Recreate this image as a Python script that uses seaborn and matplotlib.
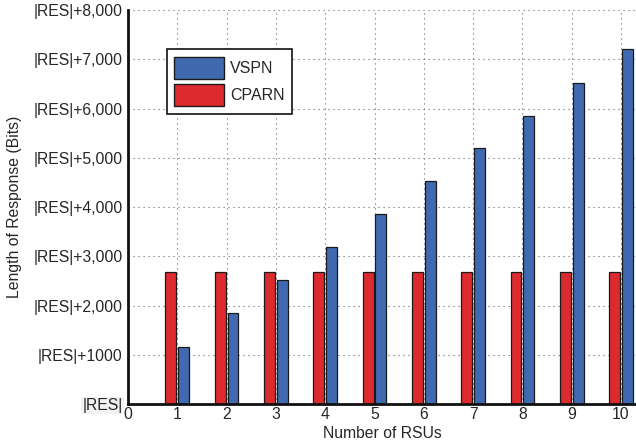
import pandas as pd
import matplotlib.pyplot as plt
import seaborn as sns
from matplotlib.patches import Patch
from matplotlib.ticker import MultipleLocator

# values
rsus = [1, 2, 3, 4, 5, 6, 7, 8, 9, 10]
vspn = [1165, 1840, 2510, 3185, 3855, 4530, 5200, 5850, 6525, 7200]
cparn = [2690, 2690, 2690, 2690, 2690, 2690, 2690, 2690, 2690, 2690]
y_ticks = [0, 1000, 2000, 3000, 4000, 5000, 6000, 7000, 8000]
y_labels = ["|RES|", "|RES|+1000", "|RES|+2,000", "|RES|+3,000", "|RES|+4,000",
            "|RES|+5,000", "|RES|+6,000", "|RES|+7,000", "|RES|+8,000"]
colors = {"VSPN": "#4169B0", "CPARN": "#DD2A2F"}


def build_frame():
    df = pd.DataFrame({"rsu": rsus * 2,
                       "bits": cparn + vspn,
                       "scheme": ["CPARN"] * len(rsus) + ["VSPN"] * len(rsus)})
    return df


def plot_bars(df):
    fig = plt.figure(figsize=(6.36, 4.47), dpi=100)
    ax = fig.add_axes([0.2013, 0.0962, 0.80, 0.8814])
    sns.barplot(data=df, x="rsu", y="bits", hue="scheme",
                hue_order=["CPARN", "VSPN"], palette=colors, saturation=1,
                native_scale=True, width=0.52, gap=0.15,
                edgecolor="#1a1a1a", linewidth=0.9, legend=False, ax=ax)

    ax.set_xlim(0, 10.32)
    ax.set_ylim(0, 8000)
    ax.set_xticks(range(0, 11))
    ax.set_xticklabels([str(i) for i in range(0, 11)])
    ax.set_yticks(y_ticks)
    ax.set_yticklabels(y_labels)
    ax.yaxis.set_minor_locator(MultipleLocator(500))
    ax.tick_params(axis="both", which="major", direction="in", length=4,
                   width=1.2, labelsize=11.3, color="#111111")
    ax.tick_params(axis="y", which="minor", direction="in", length=2, width=1)
    ax.tick_params(axis="x", pad=2)
    ax.tick_params(axis="y", pad=4)

    # the bottom "|RES|" label sits on a faint grey box
    ax.get_yticklabels()[0].set_bbox(dict(facecolor="#f2f2f2", edgecolor="none", pad=1))

    ax.grid(True, linestyle=(0, (1, 3.5)), color="#666666", linewidth=0.8)
    ax.set_axisbelow(True)
    for side in ["top", "right"]:
        ax.spines[side].set_visible(False)
    for side in ["left", "bottom"]:
        ax.spines[side].set_linewidth(2)
        ax.spines[side].set_color("#111111")

    ax.set_xlabel("Number of RSUs", fontsize=11.3, labelpad=3)
    ax.set_ylabel("Length of Response (Bits)", fontsize=11.3, labelpad=8)

    handles = [Patch(facecolor=colors["VSPN"], edgecolor="#1a1a1a", label="VSPN"),
               Patch(facecolor=colors["CPARN"], edgecolor="#1a1a1a", label="CPARN")]
    leg = ax.legend(handles=handles, loc="upper left", bbox_to_anchor=(0.077, 0.90),
                    fontsize=11.5, handlelength=3.1, handleheight=1.75,
                    handletextpad=0.4, borderpad=0.45, labelspacing=0.35,
                    fancybox=False, framealpha=1, borderaxespad=0)
    leg.get_frame().set_edgecolor("#111111")
    leg.get_frame().set_linewidth(1.2)
    return fig


if __name__ == "__main__":
    sns.set_style("white")
    plt.rcParams["font.family"] = ["Liberation Sans", "DejaVu Sans"]
    df = build_frame()
    fig = plot_bars(df)
    fig.savefig("out.png", dpi=100)
